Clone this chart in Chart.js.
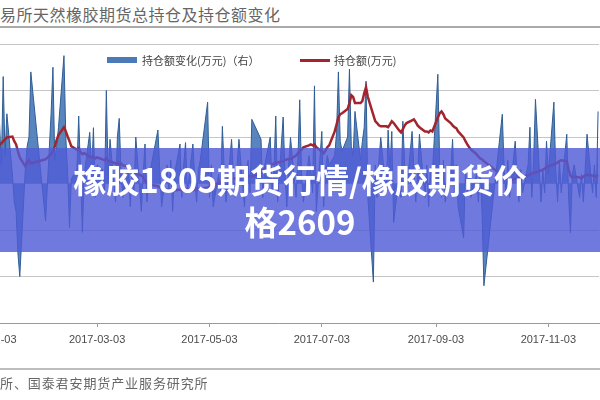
<!DOCTYPE html>
<html>
<head>
<meta charset="utf-8">
<script src="https://cdn.jsdelivr.net/npm/chart.js@4.4.1/dist/chart.umd.min.js"></script>
<style>
  html, body { margin:0; padding:0; background:#fff; }
  body { width:600px; height:400px; overflow:hidden; position:relative; font-family:"Noto Sans CJK SC", sans-serif; }
  #title { position:absolute; left:0; top:3px; font-size:16px; line-height:22px; color:#666; letter-spacing:0.5px; white-space:nowrap; }
  .hr { position:absolute; left:0; width:600px; }
  #c { position:absolute; left:-60px; top:0; }
  #legend { position:absolute; top:52px; left:0; width:600px; height:16px; font-size:11px; color:#444; }
  .lg { position:absolute; top:0; line-height:16px; white-space:nowrap; }
  .sw { position:absolute; }
  #src { position:absolute; left:0; top:374px; font-size:13px; line-height:18px; color:#666; letter-spacing:0.9px; white-space:nowrap; }
  #banner { position:absolute; left:0; top:148px; width:600px; height:104px; background:rgba(80,92,215,0.82);
            color:#fff; font-weight:bold; font-size:33px; line-height:42px; text-align:center; display:flex; align-items:center; justify-content:center; }
</style>
</head>
<body>
<div id="title">易所天然橡胶期货总持仓及持仓额变化</div>
<div class="hr" style="top:26px;height:2px;background:#aaa"></div>
<canvas id="c" width="660" height="400"></canvas>
<div id="legend"></div>
<div class="hr" style="top:368px;height:2px;background:#bdbdbd"></div>
<div id="src">所、国泰君安期货产业服务研究所</div>
<div id="banner"><div>橡胶1805期货行情/橡胶期货价<br>格2609</div></div>
<script>
// ---- data (trading days) ----
const dates = [
 '2016-12-19','2016-12-20','2016-12-21','2016-12-22','2016-12-23','2016-12-26','2016-12-27','2016-12-28','2016-12-29','2016-12-30',
 '2017-01-03','2017-01-04','2017-01-05','2017-01-06','2017-01-09','2017-01-10','2017-01-11','2017-01-12','2017-01-13','2017-01-16','2017-01-17','2017-01-18','2017-01-19','2017-01-20','2017-01-23','2017-01-24','2017-01-25','2017-01-26',
 '2017-02-03','2017-02-06','2017-02-07','2017-02-08','2017-02-09','2017-02-10','2017-02-13','2017-02-14','2017-02-15','2017-02-16','2017-02-17','2017-02-20','2017-02-21','2017-02-22','2017-02-23','2017-02-24','2017-02-27','2017-02-28',
 '2017-03-01','2017-03-02','2017-03-03','2017-03-06','2017-03-07','2017-03-08','2017-03-09','2017-03-10','2017-03-13','2017-03-14','2017-03-15','2017-03-16','2017-03-17','2017-03-20','2017-03-21','2017-03-22','2017-03-23','2017-03-24','2017-03-27','2017-03-28','2017-03-29','2017-03-30','2017-03-31',
 '2017-04-05','2017-04-06','2017-04-07','2017-04-10','2017-04-11','2017-04-12','2017-04-13','2017-04-14','2017-04-17','2017-04-18','2017-04-19','2017-04-20','2017-04-21','2017-04-24','2017-04-25','2017-04-26','2017-04-27','2017-04-28',
 '2017-05-02','2017-05-03','2017-05-04','2017-05-05','2017-05-08','2017-05-09','2017-05-10','2017-05-11','2017-05-12','2017-05-15','2017-05-16','2017-05-17','2017-05-18','2017-05-19','2017-05-22','2017-05-23','2017-05-24','2017-05-25','2017-05-26','2017-05-31',
 '2017-06-01','2017-06-02','2017-06-05','2017-06-06','2017-06-07','2017-06-08','2017-06-09','2017-06-12','2017-06-13','2017-06-14','2017-06-15','2017-06-16','2017-06-19','2017-06-20','2017-06-21','2017-06-22','2017-06-23','2017-06-26','2017-06-27','2017-06-28','2017-06-29','2017-06-30',
 '2017-07-03','2017-07-04','2017-07-05','2017-07-06','2017-07-07','2017-07-10','2017-07-11','2017-07-12','2017-07-13','2017-07-14','2017-07-17','2017-07-18','2017-07-19','2017-07-20','2017-07-21','2017-07-24','2017-07-25','2017-07-26','2017-07-27','2017-07-28','2017-07-31',
 '2017-08-01','2017-08-02','2017-08-03','2017-08-04','2017-08-07','2017-08-08','2017-08-09','2017-08-10','2017-08-11','2017-08-14','2017-08-15','2017-08-16','2017-08-17','2017-08-18','2017-08-21','2017-08-22','2017-08-23','2017-08-24','2017-08-25','2017-08-28','2017-08-29','2017-08-30','2017-08-31',
 '2017-09-01','2017-09-04','2017-09-05','2017-09-06','2017-09-07','2017-09-08','2017-09-11','2017-09-12','2017-09-13','2017-09-14','2017-09-15','2017-09-18','2017-09-19','2017-09-20','2017-09-21','2017-09-22','2017-09-25','2017-09-26','2017-09-27','2017-09-28','2017-09-29',
 '2017-10-09','2017-10-10','2017-10-11','2017-10-12','2017-10-13','2017-10-16','2017-10-17','2017-10-18','2017-10-19','2017-10-20','2017-10-23','2017-10-24','2017-10-25','2017-10-26','2017-10-27','2017-10-30','2017-10-31',
 '2017-11-01','2017-11-02','2017-11-03','2017-11-06','2017-11-07','2017-11-08','2017-11-09','2017-11-10','2017-11-13','2017-11-14','2017-11-15','2017-11-16','2017-11-17','2017-11-20','2017-11-21','2017-11-22','2017-11-23','2017-11-24','2017-11-27','2017-11-28','2017-11-29','2017-11-30'
];

// 持仓额变化(万元) — right axis
const oiChange = [
 30000,-20000,50000,-40000,20000,60000,-30000,10000,80000,-20000,
 50000,-30000,40000,90000,130000,40000,230000,60000,150000,20000,-40000,-60000,-150000,-200000,30000,80000,100000,240000,
 -80000,150000,250000,50000,80000,120000,275000,100000,20000,-95000,10000,30000,145000,20000,-105000,20000,110000,20000,
 120000,-30000,40000,30000,-20000,200000,10000,95000,-40000,100000,140000,20000,-30000,40000,-50000,30000,-20000,100000,-60000,20000,85000,-40000,10000,
 115000,30000,-50000,40000,-20000,50000,-60000,20000,85000,-30000,40000,88000,-20000,85000,10000,-40000,30000,50000,
 175000,-30000,40000,-50000,20000,-20000,123000,30000,-40000,95000,20000,-30000,40000,95000,-50000,30000,50000,-20000,138000,95000,
 -30000,40000,100000,-20000,30000,145000,-40000,143000,20000,-50000,40000,99000,-30000,50000,180000,20000,-40000,60000,30000,-20000,210000,-60000,
 112000,-50000,30000,60000,40000,60000,110000,240000,90000,70000,100000,246000,80000,60000,155000,50000,90000,120000,220000,-30000,-212000,
 40000,-30000,50000,99000,-20000,115000,30000,112000,-84000,20000,-30000,134000,40000,-20000,112000,30000,-40000,20000,106000,-30000,40000,-50000,30000,
 20000,235000,40000,-30000,50000,-40000,30000,95000,-20000,40000,-50000,-117000,30000,-20000,40000,-30000,20000,-40000,30000,-60000,-220000,
 149000,30000,-20000,50000,-30000,91000,20000,-40000,30000,-20000,40000,121000,-30000,50000,181000,-40000,30000,
 -20000,91000,20000,175000,30000,-40000,50000,-20000,106000,-30000,-106000,20000,40000,-30000,20000,-40000,30000,106000,-20000,40000,-30000,155000
];

// 持仓额(万元) — left axis
const oiValue = [
 3700000,3680000,3720000,3750000,3700000,3740000,3780000,3760000,3800000,3770000,
 3780000,3800000,3760000,3820000,3840000,3860000,3910000,3950000,3990000,4010000,3910000,3840000,3690000,3560000,3370000,3450000,3500000,3430000,
 3520000,3630000,3690000,3800000,3930000,4040000,4210000,4120000,4010000,3910000,3800000,3730000,3760000,3670000,3630000,3650000,3580000,3560000,
 3580000,3540000,3560000,3520000,3500000,3540000,3480000,3480000,3430000,3450000,3410000,3430000,3390000,3370000,3320000,3300000,3260000,3240000,3170000,3130000,3070000,3020000,2980000,
 2940000,2910000,2890000,2870000,2850000,2870000,2830000,2850000,2870000,2850000,2870000,2890000,2870000,2850000,2870000,2890000,2870000,2890000,
 2910000,2940000,2960000,2980000,3000000,3020000,3020000,3040000,3070000,3090000,3110000,3110000,3130000,3130000,3150000,3130000,3150000,3170000,3150000,3240000,
 3280000,3320000,3390000,3410000,3430000,3450000,3450000,3480000,3500000,3520000,3520000,3520000,3600000,3650000,3690000,3730000,3780000,3820000,3840000,3820000,3840000,3780000,
 3690000,3650000,3710000,3780000,3820000,4120000,4270000,4420000,4490000,4510000,4600000,4730000,4900000,4860000,4730000,4730000,4770000,4940000,5070000,4860000,4470000,
 4340000,4300000,4250000,4230000,4230000,4210000,4270000,4340000,4300000,4140000,4100000,4170000,4250000,4300000,4360000,4380000,4320000,4250000,4210000,4120000,4120000,4100000,4140000,
 4120000,4420000,4510000,4550000,4490000,4400000,4300000,4250000,4210000,4190000,4120000,3990000,3910000,3840000,3780000,3730000,3630000,3580000,3540000,3520000,3480000,
 3170000,3130000,3110000,3090000,3070000,3090000,3110000,3130000,3150000,3150000,3170000,3190000,3220000,3220000,3240000,3280000,3300000,
 3320000,3350000,3370000,3410000,3430000,3450000,3480000,3500000,3480000,3300000,3170000,3130000,3150000,3130000,3110000,3150000,3170000,3190000,3170000,3150000,3170000,3150000
];

const tickLabels = ['2017-01-03','2017-03-03','2017-05-03','2017-07-03','2017-09-03','2017-11-03'];
const seriesNames = ['持仓额变化(万元)（右）', '持仓额(万元)'];
const seriesColors = ['#4a7bb8', '#a3242c'];

// ---- helpers ----
function dayNum(s) {
  const p = s.split('-').map(Number);
  return (Date.UTC(p[0], p[1] - 1, p[2]) - Date.UTC(2017, 0, 1)) / 86400000;
}
const xs = dates.map(dayNum);
const tickDays = tickLabels.map(dayNum);

const chart = new Chart(document.getElementById('c'), {
  type: 'line',
  data: {
    datasets: [
      {
        label: seriesNames[1],
        data: xs.map((x, i) => ({ x: x, y: oiValue[i] })),
        yAxisID: 'y',
        borderColor: seriesColors[1],
        backgroundColor: seriesColors[1],
        borderWidth: 2.5,
        pointRadius: 0,
        tension: 0,
        fill: false,
        order: 0
      },
      {
        label: seriesNames[0],
        data: xs.map((x, i) => ({ x: x, y: oiChange[i] })),
        yAxisID: 'y1',
        borderColor: '#2f5d95',
        backgroundColor: 'rgba(74,123,184,0.92)',
        borderWidth: 1,
        pointRadius: 0,
        tension: 0,
        fill: 'origin',
        order: 1
      }
    ]
  },
  options: {
    responsive: false,
    animation: false,
    devicePixelRatio: 1,
    layout: { padding: { left: 19, right: 1, top: 44, bottom: 0 } },
    plugins: { legend: { display: false }, tooltip: { enabled: false }, title: { display: false } },
    scales: {
      x: {
        type: 'linear',
        min: -14,
        max: 333.5,
        afterBuildTicks: (s) => { s.ticks = tickDays.map(v => ({ value: v })); },
        afterFit: (s) => { s.height = 77; },
        ticks: {
          autoSkip: false, maxRotation: 0, padding: 6,
          color: '#4a4a4a',
          font: { family: 'Liberation Sans, Arial, sans-serif', size: 11 },
          callback: (v) => { const i = tickDays.indexOf(v); return i >= 0 ? tickLabels[i] : ''; }
        },
        grid: { drawOnChartArea: false, drawTicks: true, tickLength: 4, color: '#999' },
        border: { display: true, color: '#999', width: 1 }
      },
      y: {
        position: 'left',
        min: 0, max: 6000000,
        ticks: { display: false, stepSize: 1000000 },
        grid: { color: '#c6c6c6', drawTicks: false, lineWidth: 1 },
        border: { display: false },
        afterFit: (s) => { s.width = 0; }
      },
      y1: {
        position: 'right',
        display: false,
        min: -300000, max: 300000,
        ticks: { stepSize: 100000 },
        grid: { display: false }
      }
    }
  }
});

// ---- HTML legend built from the chart's datasets ----
(function () {
  const lg = document.getElementById('legend');
  const areaDs = chart.data.datasets[1], lineDs = chart.data.datasets[0];
  const items = [
    { ds: areaDs, sw: { left: 107, top: 5, w: 30, h: 6, c: seriesColors[0] }, tx: 142 },
    { ds: lineDs, sw: { left: 300, top: 7, w: 30, h: 3, c: seriesColors[1] }, tx: 334 }
  ];
  items.forEach(it => {
    const s = document.createElement('div');
    s.className = 'sw';
    s.style.cssText = `left:${it.sw.left}px;top:${it.sw.top}px;width:${it.sw.w}px;height:${it.sw.h}px;background:${it.sw.c}`;
    lg.appendChild(s);
    const t = document.createElement('div');
    t.className = 'lg';
    t.style.left = it.tx + 'px';
    t.textContent = it.ds.label;
    lg.appendChild(t);
  });
})();
</script>
</body>
</html>
